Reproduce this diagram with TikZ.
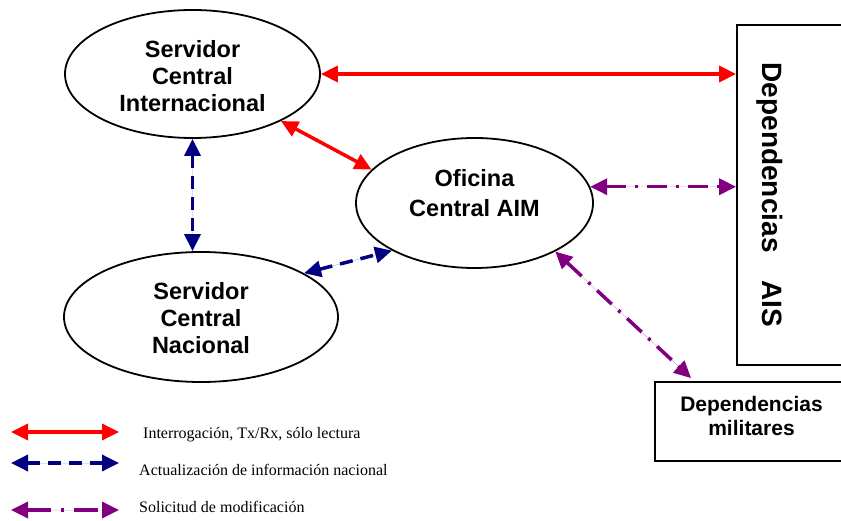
\documentclass[tikz,border=0pt]{standalone}
\usepackage{fontspec}
\setmainfont{Liberation Serif}
\newfontfamily\arial{Liberation Sans}
\usetikzlibrary{arrows.meta,shapes.geometric,calc}
\definecolor{cred}{RGB}{255,0,0}
\definecolor{cblue}{RGB}{0,0,128}
\definecolor{cpurple}{RGB}{128,0,128}
\begin{document}
\begin{tikzpicture}[x=1pt,y=-1pt,
  ell/.style={ellipse,draw,line width=1.8pt,inner sep=0pt,align=center,
    font=\arial\bfseries\fontsize{23.5}{27}\selectfont},
  boxnode/.style={rectangle,draw,line width=1.8pt,inner sep=0pt},
  tipstyle/.style={{Triangle[length=17pt,width=16pt]}-{Triangle[length=17pt,width=16pt]}},
  redarrow/.style={tipstyle,draw=cred,fill=cred,line width=3.5pt},
  bluearrow/.style={tipstyle,draw=cblue,fill=cblue,line width=3.5pt,dash pattern=on 13pt off 8pt},
  purplearrow/.style={tipstyle,draw=cpurple,fill=cpurple,line width=3.5pt,dash pattern=on 20pt off 9pt on 3pt off 9pt},
  legtext/.style={anchor=base west,inner sep=0pt,font=\fontsize{16}{19}\selectfont}
]
\useasboundingbox (0,0) rectangle (841,521);
\clip (0,0) rectangle (841,521);

\node[ell,minimum width=255pt,minimum height=128pt] (sci) at (192.5,74)
  {\rule{0pt}{22pt}Servidor\\Central\\Internacional};
\node[ell,minimum width=237pt,minimum height=130pt,
  font=\arial\bfseries\fontsize{23.5}{30}\selectfont] (aim) at (474.5,203)
  {Oficina\\Central AIM\rule[-21pt]{0pt}{21pt}};
\node[ell,minimum width=274pt,minimum height=130pt] (scn) at (201,317)
  {\rule{0pt}{20pt}Servidor\\Central\\Nacional};

\node[boxnode,minimum width=133pt,minimum height=340pt] (ais) at (803.5,195) {};
\node[rotate=-90,inner sep=0pt,font=\arial\bfseries\fontsize{28}{32}\selectfont] (aistext) at (770,195)
  {Dependencias\hspace{1em}AIS};

\node[boxnode,minimum width=193pt,minimum height=79pt,align=center,
  font=\arial\bfseries\fontsize{21}{24}\selectfont] (mil) at (751.5,421.5)
  {Dependencias\\militares\rule[-12pt]{0pt}{12pt}};

\draw[redarrow] (sci.east) -- (sci.east -| ais.west);
\draw[redarrow] (sci.-28) -- (aim.162);
\draw[bluearrow] (sci.south) -- (sci.south |- scn.north);
\draw[bluearrow] (scn.23) -- (aim.210);
\draw[purplearrow] (aim.8) -- (aim.8 -| ais.west);
\coordinate (milin) at ($(mil.north west)!0.19!(mil.north east)+(0,-3)$);
\draw[purplearrow] (aim.-31) -- (milin);

\coordinate (l1a) at (11,432);
\coordinate (l1b) at (119,432);
\coordinate (l2a) at (11,463);
\coordinate (l2b) at (119,463);
\coordinate (l3a) at (11,510);
\coordinate (l3b) at (119,510);
\draw[redarrow] (l1a) -- (l1b);
\draw[bluearrow] (l2a) -- (l2b);
\draw[purplearrow,dash pattern=on 24pt off 10pt on 3pt off 10pt] (l3a) -- (l3b);
\node[legtext] (t1) at (143,438) {Interrogación, Tx/Rx, sólo lectura};
\node[legtext] (t2) at (139,475) {Actualización de información nacional};
\node[legtext] (t3) at (139,512.5) {Solicitud de modificación};
\end{tikzpicture}
\end{document}
